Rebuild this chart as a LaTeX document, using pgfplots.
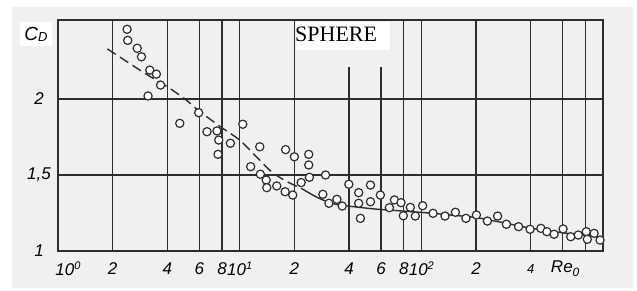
\documentclass[border=0pt]{standalone}
\usepackage{pgfplots}
\pgfplotsset{compat=1.18}
\usepackage{fontspec}
\setmainfont{Liberation Serif}
\newfontfamily\lab{Liberation Sans}
\definecolor{bg}{RGB}{240,240,240}
\definecolor{ink}{RGB}{45,45,45}
\newcommand{\expo}[1]{\raisebox{6pt}{\fontsize{11}{11}\selectfont #1}}
\begin{document}
\begin{tikzpicture}[x=1pt,y=1pt]
\fill[white] (-58,-39) rectangle (579,251);
\fill[bg] (-46,-37) rectangle (575,244);
\begin{axis}[
  at={(0,0)}, anchor=south west,
  scale only axis, width=545pt, height=231pt,
  xmode=log, xmin=1, xmax=1000, ymin=1, ymax=2.52,
  axis line style={ink, line width=1.4pt},
  major tick length=0pt,
  xtick={1,2,4,6,8,10,20,80,100,200,400,600,800},
  xticklabels={{\hspace{20pt}10\expo{0}},2,4,6,8,{10\expo{1}},2,8,{10\expo{2}},2,{\fontsize{13}{13}\selectfont 4},{\hspace{5pt}Re\raisebox{-4pt}{\fontsize{12}{12}\selectfont 0}},{}},
  extra x ticks={40,60},
  extra x tick labels={4,6},
  extra x tick style={grid=none},
  xmajorgrids, ymajorgrids,
  grid style={ink, line width=1.3pt},
  ytick={1,1.5,2},
  yticklabels={1,{1,5},2},
  xticklabel style={font=\lab\itshape\fontsize{17}{17}\selectfont, anchor=center, yshift=-18pt},
  yticklabel style={font=\lab\itshape\fontsize{17}{17}\selectfont, anchor=center, xshift=-19pt},
  clip=false,
]
\draw[ink, line width=1.3pt] (axis cs:40,1) -- (axis cs:40,2.21);
\draw[ink, line width=1.3pt] (axis cs:60,1) -- (axis cs:60,2.21);
\addplot[ink, line width=1.4pt, dash pattern=on 10pt off 5pt, smooth] coordinates {
(1.87,2.33) (3,2.17) (4,2.08) (5,2.0) (6,1.92) (8,1.81) (10,1.73) (12.6,1.61) (15,1.52) (18,1.46) (22,1.41)
};
\addplot[ink, line width=1.4pt, smooth] coordinates {
(22,1.41) (27,1.35) (33,1.31) (40,1.295) (57,1.275) (75,1.265) (110,1.25) (150,1.235) (200,1.22) (300,1.18) (400,1.15) (600,1.12) (1000,1.09)
};
\addplot[only marks, mark=*, mark size=4.1pt, mark options={draw=ink, fill=white, line width=1.2pt}] coordinates {
(2.40,2.459) (2.42,2.386) (2.73,2.334) (2.88,2.278) (3.20,2.19) (3.48,2.164) (3.67,2.092) (3.13,2.02)
(4.68,1.84) (5.95,1.91) (6.61,1.785) (7.5,1.79) (7.67,1.73) (8.89,1.709) (7.6,1.636) (10.4,1.834)
(12.9,1.686) (11.5,1.555) (13.0,1.505) (14.0,1.467) (14.1,1.417) (16.0,1.428) (17.8,1.39) (19.6,1.368)
(17.9,1.667) (20.0,1.62) (24.0,1.636) (24.0,1.566) (24.2,1.485) (21.8,1.45) (29.7,1.5) (28.7,1.373)
(31.0,1.314) (34.3,1.34) (36.7,1.296) (39.9,1.439) (45.2,1.384) (45.2,1.314) (46.2,1.215) (52.5,1.434)
(52.5,1.324) (59.5,1.368) (66.7,1.285) (71.1,1.336) (77.3,1.318) (79.6,1.232) (87.0,1.287) (92.7,1.23)
(101.7,1.298) (116,1.248) (135,1.23) (154,1.255) (176,1.215) (201,1.237) (231,1.197) (263,1.23)
(294,1.176) (343,1.16) (397,1.143) (455,1.149) (491,1.127) (538,1.11) (603,1.145) (664,1.094)
(731,1.105) (809,1.127) (820,1.077) (893,1.116) (963,1.072)
};
\end{axis}
\fill[white] (238,201) rectangle (332,229);
\node[anchor=west, inner sep=0pt, font=\fontsize{22}{22}\selectfont] at (237,217) {SPHERE};
\fill[white] (-38,205) rectangle (-6,229);
\node[inner sep=0pt, font=\lab\itshape\fontsize{19}{19}\selectfont] at (-22,217) {C\raisebox{-1pt}{\fontsize{13}{13}\selectfont D}};
\end{tikzpicture}
\end{document}
